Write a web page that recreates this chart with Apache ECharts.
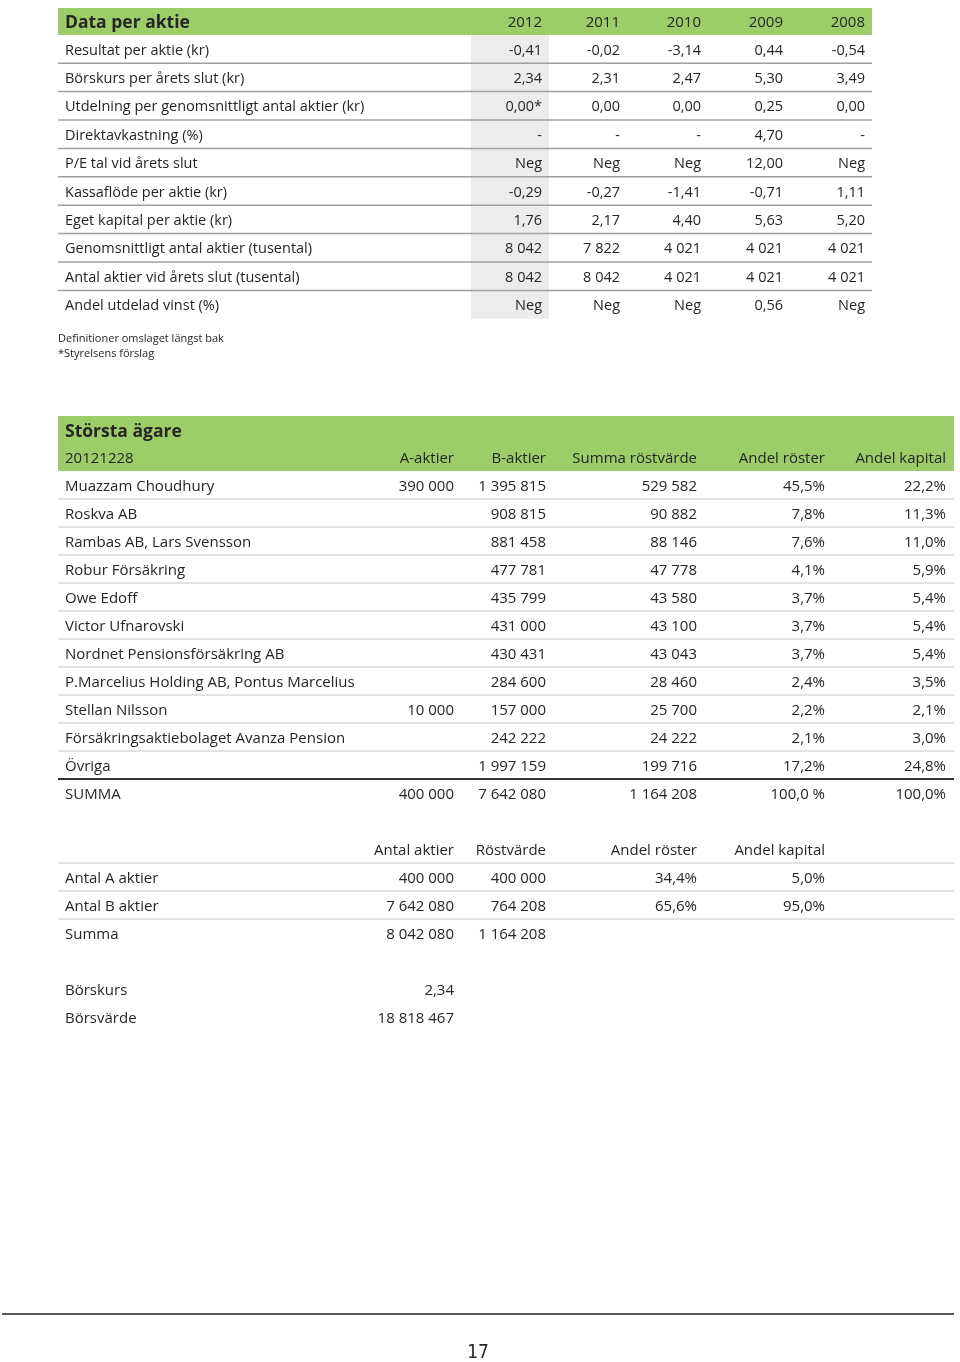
<!DOCTYPE html>
<html><head><meta charset="utf-8">
<script src="https://cdn.jsdelivr.net/npm/echarts@6/dist/echarts.min.js"></script>
<style>html,body{margin:0;padding:0;background:#fff}#c{width:960px;height:1362px}</style>
</head><body><div id="c"></div>
<script>
// ---------- DATA ----------
var table1Title = 'Data per aktie';
var years = ['2012', '2011', '2010', '2009', '2008'];
var metricLabels = [
  'Resultat per aktie (kr)',
  'Börskurs per årets slut (kr)',
  'Utdelning per genomsnittligt antal aktier (kr)',
  'Direktavkastning (%)',
  'P/E tal vid årets slut',
  'Kassaflöde per aktie (kr)',
  'Eget kapital per aktie (kr)',
  'Genomsnittligt antal aktier (tusental)',
  'Antal aktier vid årets slut (tusental)',
  'Andel utdelad vinst (%)'
];
var resultatPerAktie = ['-0,41', '-0,02', '-3,14', '0,44', '-0,54'];
var borskurs = ['2,34', '2,31', '2,47', '5,30', '3,49'];
var utdelning = ['0,00*', '0,00', '0,00', '0,25', '0,00'];
var direktavkastning = ['-', '-', '-', '4,70', '-'];
var peTal = ['Neg', 'Neg', 'Neg', '12,00', 'Neg'];
var kassaflode = ['-0,29', '-0,27', '-1,41', '-0,71', '1,11'];
var egetKapital = ['1,76', '2,17', '4,40', '5,63', '5,20'];
var genomsnittAntal = ['8 042', '7 822', '4 021', '4 021', '4 021'];
var antalVidSlut = ['8 042', '8 042', '4 021', '4 021', '4 021'];
var andelUtdelad = ['Neg', 'Neg', 'Neg', '0,56', 'Neg'];
var metricValues = [resultatPerAktie, borskurs, utdelning, direktavkastning, peTal,
  kassaflode, egetKapital, genomsnittAntal, antalVidSlut, andelUtdelad];
var footnotes = ['Definitioner omslaget längst bak', '*Styrelsens förslag'];

var table2Title = 'Största ägare';
var ownerHeaders = ['20121228', 'A-aktier', 'B-aktier', 'Summa röstvärde', 'Andel röster', 'Andel kapital'];
var ownerNames = ['Muazzam Choudhury', 'Roskva AB', 'Rambas AB, Lars Svensson', 'Robur Försäkring',
  'Owe Edoff', 'Victor Ufnarovski', 'Nordnet Pensionsförsäkring AB', 'P.Marcelius Holding AB, Pontus Marcelius',
  'Stellan Nilsson', 'Försäkringsaktiebolaget Avanza Pension', 'Övriga', 'SUMMA'];
var ownerA = ['390 000', '', '', '', '', '', '', '', '10 000', '', '', '400 000'];
var ownerB = ['1 395 815', '908 815', '881 458', '477 781', '435 799', '431 000', '430 431', '284 600',
  '157 000', '242 222', '1 997 159', '7 642 080'];
var ownerVotes = ['529 582', '90 882', '88 146', '47 778', '43 580', '43 100', '43 043', '28 460',
  '25 700', '24 222', '199 716', '1 164 208'];
var ownerVoteShare = ['45,5%', '7,8%', '7,6%', '4,1%', '3,7%', '3,7%', '3,7%', '2,4%', '2,2%', '2,1%', '17,2%', '100,0 %'];
var ownerCapShare = ['22,2%', '11,3%', '11,0%', '5,9%', '5,4%', '5,4%', '5,4%', '3,5%', '2,1%', '3,0%', '24,8%', '100,0%'];

var classHeaders = ['', 'Antal aktier', 'Röstvärde', 'Andel röster', 'Andel kapital'];
var classLabels = ['Antal A aktier', 'Antal B aktier', 'Summa'];
var classShares = ['400 000', '7 642 080', '8 042 080'];
var classVotes = ['400 000', '764 208', '1 164 208'];
var classVoteShare = ['34,4%', '65,6%', ''];
var classCapShare = ['5,0%', '95,0%', ''];

var marketLabels = ['Börskurs', 'Börsvärde'];
var marketValues = ['2,34', '18 818 467'];
var pageNumber = '17';

// ---------- LAYOUT ----------
var FONT = '"Open Sans", "Noto Sans", sans-serif';
var GREEN = '#9ccd69';
var TXT = '#262626';
var DY = 1.5;
var els = [];
function text(t, x, y, opt) {
  opt = opt || {};
  els.push({type: 'text', silent: true, z: 10, style: {
    text: t, x: x, y: y + DY, fill: opt.fill || TXT,
    font: (opt.weight || 'normal') + ' ' + (opt.size || 14) + 'px ' + (opt.family || FONT),
    align: opt.align || 'left', verticalAlign: 'middle'
  }});
}
function rect(x, y, w, h, fill) {
  els.push({type: 'rect', silent: true, z: 1, shape: {x: x, y: y, width: w, height: h}, style: {fill: fill}});
}
function line(x1, y, x2, color, w) {
  els.push({type: 'line', silent: true, z: 5, shape: {x1: x1, y1: y, x2: x2, y2: y}, style: {stroke: color, lineWidth: w}});
}

// Table 1
var S1 = 14.5;
var t1 = {left: 58, right: 872, top: 8, headH: 27, row0: 49, rowH: 28.4, textX: 65,
  colRight: [542, 620, 701, 783, 865], shadeX: 471, shadeW: 78};
rect(t1.left, t1.top, t1.right - t1.left, t1.headH, GREEN);
text(table1Title, t1.textX, t1.top + 13.5, {weight: 'bold', size: 17.5});
years.forEach(function (y, j) { text(y, t1.colRight[j], t1.top + 13.5, {size: 15, align: 'right'}); });
rect(t1.shadeX, t1.top + t1.headH, t1.shadeW, t1.row0 + (metricLabels.length - 0.5) * t1.rowH - (t1.top + t1.headH), '#ececec');
metricLabels.forEach(function (lab, i) {
  var cy = t1.row0 + i * t1.rowH;
  text(lab, t1.textX, cy, {size: S1});
  metricValues[i].forEach(function (v, j) { text(v, t1.colRight[j], cy, {size: S1, align: 'right'}); });
  if (i < metricLabels.length - 1) line(t1.left, cy + t1.rowH / 2, t1.right, '#a0a0a0', 1.5);
});
footnotes.forEach(function (f, i) { text(f, t1.left, 337 + i * 15.5, {size: 11}); });

// Table 2
var S2 = 15;
var t2 = {left: 58, right: 954, top: 416, headH: 55, titleY: 430.5, headY: 457, row0: 485, rowH: 28, textX: 65,
  colRight: [454, 546, 697, 825, 946]};
rect(t2.left, t2.top, t2.right - t2.left, t2.headH, GREEN);
text(table2Title, t2.textX, t2.titleY, {weight: 'bold', size: 17.5});
text(ownerHeaders[0], t2.textX, t2.headY, {size: S2});
ownerHeaders.slice(1).forEach(function (h, j) { text(h, t2.colRight[j], t2.headY, {size: S2, align: 'right'}); });
var ownerCols = [ownerA, ownerB, ownerVotes, ownerVoteShare, ownerCapShare];
ownerNames.forEach(function (n, i) {
  var cy = t2.row0 + i * t2.rowH;
  text(n, t2.textX, cy, {size: S2});
  ownerCols.forEach(function (col, j) { if (col[i]) text(col[i], t2.colRight[j], cy, {size: S2, align: 'right'}); });
  if (i < ownerNames.length - 2) line(t2.left, cy + t2.rowH / 2, t2.right, '#d9d9d9', 1.5);
  else if (i === ownerNames.length - 2) line(t2.left, cy + t2.rowH / 2, t2.right, '#333333', 2);
});

// Table 3
var t3 = {left: 58, right: 954, headY: 849, row0: 877, rowH: 28, textX: 65, colRight: [454, 546, 697, 825]};
classHeaders.slice(1).forEach(function (h, j) { text(h, t3.colRight[j], t3.headY, {size: S2, align: 'right'}); });
line(t3.left, t3.headY + 14, t3.right, '#d9d9d9', 1.5);
var classCols = [classShares, classVotes, classVoteShare, classCapShare];
classLabels.forEach(function (n, i) {
  var cy = t3.row0 + i * t3.rowH;
  text(n, t3.textX, cy, {size: S2});
  classCols.forEach(function (col, j) { if (col[i]) text(col[i], t3.colRight[j], cy, {size: S2, align: 'right'}); });
  if (i < classLabels.length - 1) line(t3.left, cy + t3.rowH / 2, t3.right, '#d9d9d9', 1.5);
});

// Table 4
marketLabels.forEach(function (n, i) {
  var cy = 989 + i * 28;
  text(n, 65, cy, {size: S2});
  text(marketValues[i], 454, cy, {size: S2, align: 'right'});
});

// Footer
line(2, 1314, 954, '#222222', 1.5);
text(pageNumber, 478, 1352, {size: 19, align: 'center', family: '"Liberation Sans Narrow", "DejaVu Sans Condensed", sans-serif'});

var chart = echarts.init(document.getElementById('c'), null, {renderer: 'canvas'});
chart.setOption({backgroundColor: '#ffffff', animation: false, graphic: {elements: els}});
</script>
</body></html>
